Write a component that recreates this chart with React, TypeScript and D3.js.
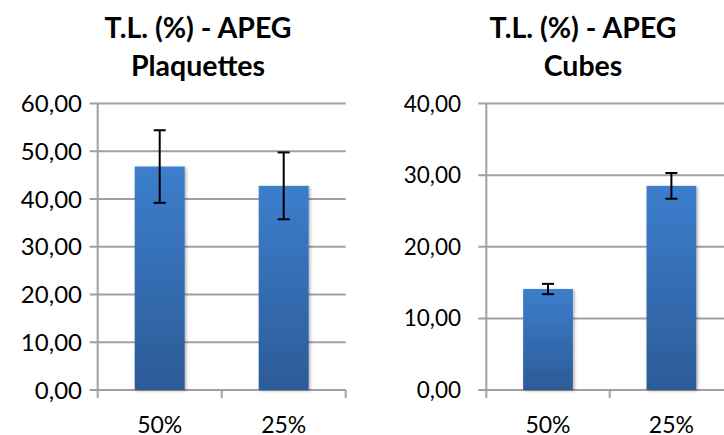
import React from "react";
import * as d3 from "d3";

const categories = ["50%", "25%"];
const plaquettesValues = [46.8, 42.75];
const plaquettesErrors = [7.6, 7.0];
const plaquettesTicks = [0, 10, 20, 30, 40, 50, 60];
const cubesValues = [14.1, 28.5];
const cubesErrors = [0.72, 1.8];
const cubesTicks = [0, 10, 20, 30, 40];

const fmt = (v: number) => v.toFixed(2).replace(".", ",");
const FONT = "Lato, 'Open Sans', sans-serif";

type ChartProps = {
  id: string;
  title: string[];
  titleX: number;
  values: number[];
  errors: number[];
  ticks: number[];
  axisX: number;
  rightX: number;
  labelX: number;
  labelSize: number;
};

function Chart(p: ChartProps) {
  const top = 103.5;
  const bottom = 390;
  const y = d3.scaleLinear().domain([0, p.ticks[p.ticks.length - 1]]).range([bottom, top]);
  const pad = (124 - 50) / 124;
  const x = d3
    .scaleBand<string>()
    .domain(categories)
    .range([p.axisX, p.rightX])
    .paddingInner(pad)
    .paddingOuter(pad / 2);
  const step = x.step();
  const grid = "#a0a0a0";
  return (
    <g>
      {p.title.map((t, i) => (
        <text
          key={i}
          x={p.titleX}
          y={38 + i * 38}
          textAnchor="middle"
          fontFamily={FONT}
          fontWeight="bold"
          fontSize={28.5}
          fill="#000"
        >
          {t}
        </text>
      ))}
      {p.ticks.map((t) => (
        <g key={t}>
          <line x1={p.axisX - 8} x2={p.rightX} y1={y(t)} y2={y(t)} stroke={grid} strokeWidth={2} />
          <text
            x={p.labelX}
            y={y(t)}
            dy="0.36em"
            textAnchor="end"
            fontFamily={FONT}
            fontSize={p.labelSize}
            fill="#000"
          >
            {fmt(t)}
          </text>
        </g>
      ))}
      <line x1={p.axisX} x2={p.axisX} y1={top} y2={bottom + 8} stroke={grid} strokeWidth={2} />
      {categories.map((c, i) => (
        <line
          key={"t" + c}
          x1={p.axisX + step * (i + 1)}
          x2={p.axisX + step * (i + 1)}
          y1={bottom}
          y2={bottom + 8}
          stroke={grid}
          strokeWidth={2}
        />
      ))}
      {categories.map((c, i) => (
        <rect
          key={"b" + c}
          x={x(c)!}
          y={y(p.values[i])}
          width={x.bandwidth()}
          height={bottom - y(p.values[i])}
          fill={`url(#grad-${p.id})`}
          filter={`url(#shadow-${p.id})`}
        />
      ))}
      {categories.map((c, i) => {
        const cx = x(c)! + x.bandwidth() / 2;
        const y1 = y(p.values[i] + p.errors[i]);
        const y2 = y(p.values[i] - p.errors[i]);
        return (
          <g key={"e" + c} stroke="#000" strokeWidth={2}>
            <line x1={cx} x2={cx} y1={y1} y2={y2} />
            <line x1={cx - 6} x2={cx + 6} y1={y1} y2={y1} />
            <line x1={cx - 6} x2={cx + 6} y1={y2} y2={y2} />
          </g>
        );
      })}
      {categories.map((c) => (
        <text
          key={"x" + c}
          x={x(c)! + x.bandwidth() / 2}
          y={433}
          textAnchor="middle"
          fontFamily={FONT}
          fontSize={23}
          fill="#000"
        >
          {c}
        </text>
      ))}
    </g>
  );
}

export default function App() {
  return (
    <svg
      width={724}
      height={435}
      style={{ position: "absolute", left: 0, top: 0, display: "block", background: "#fff" }}
    >
      <defs>
        {["l", "r"].map((id) => (
          <React.Fragment key={id}>
            <linearGradient id={`grad-${id}`} x1="0" y1="0" x2="0" y2="1">
              <stop offset="0%" stopColor="#3c7ecd" />
              <stop offset="100%" stopColor="#2c5b97" />
            </linearGradient>
            <filter id={`shadow-${id}`} x="-20%" y="-10%" width="140%" height="120%">
              <feDropShadow dx="1.5" dy="1" stdDeviation="1.5" floodColor="#000" floodOpacity="0.3" />
            </filter>
          </React.Fragment>
        ))}
      </defs>
      <Chart
        id="l"
        title={["T.L. (%) - APEG", "Plaquettes"]}
        titleX={198}
        values={plaquettesValues}
        errors={plaquettesErrors}
        ticks={plaquettesTicks}
        axisX={97.7}
        rightX={345.7}
        labelX={82}
        labelSize={24}
      />
      <Chart
        id="r"
        title={["T.L. (%) - APEG", "Cubes"]}
        titleX={583}
        values={cubesValues}
        errors={cubesErrors}
        ticks={cubesTicks}
        axisX={486.3}
        rightX={733.1}
        labelX={461}
        labelSize={22.5}
      />
    </svg>
  );
}
